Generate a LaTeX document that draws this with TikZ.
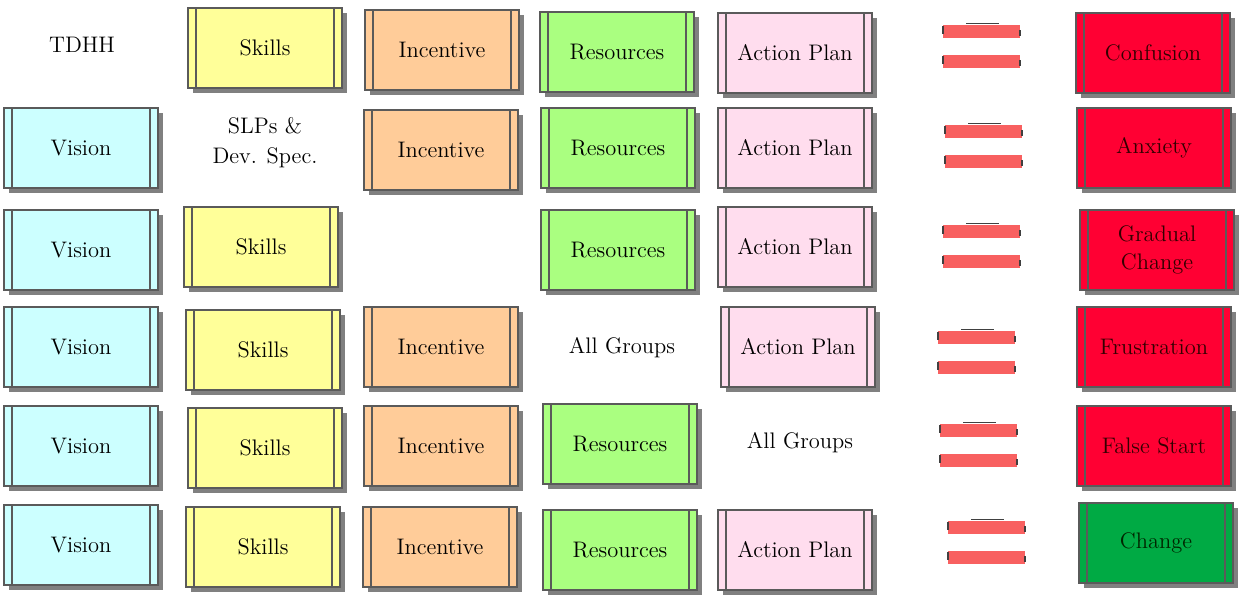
\documentclass[tikz,border=0pt]{standalone}
\usepackage{fontspec}
\usetikzlibrary{shadows}
\definecolor{boxline}{HTML}{5A5A5A}
\definecolor{visioncol}{HTML}{CCFFFF}
\definecolor{skillcol}{HTML}{FFFF99}
\definecolor{incentcol}{HTML}{FFCC99}
\definecolor{rescol}{HTML}{AAFF80}
\definecolor{plancol}{HTML}{FFDDEE}
\definecolor{badcol}{HTML}{FF0033}
\definecolor{goodcol}{HTML}{00AA44}
\definecolor{eqcol}{HTML}{F86060}

\begin{document}
\begin{tikzpicture}[x=0.02cm, y=-0.02cm,
  pbox/.style={draw=boxline, line width=0.8pt, minimum width=3.08cm,
    minimum height=1.6cm, inner sep=0pt, font=\fontsize{12.8}{16}\selectfont,
    drop shadow={shadow xshift=0.1cm, shadow yshift=-0.1cm, fill=gray, opacity=1},
    path picture={
      \draw[boxline, line width=0.8pt]
        ([xshift=0.16cm]path picture bounding box.north west) --
        ([xshift=0.16cm]path picture bounding box.south west)
        ([xshift=-0.16cm]path picture bounding box.north east) --
        ([xshift=-0.16cm]path picture bounding box.south east);}},
  vis/.style={pbox, fill=visioncol},
  skl/.style={pbox, fill=skillcol},
  inc/.style={pbox, fill=incentcol},
  res/.style={pbox, fill=rescol},
  plan/.style={pbox, fill=plancol},
  bad/.style={pbox, fill=badcol, text=black!80!red},
  good/.style={pbox, fill=goodcol, text=black!85!green},
  plain/.style={font=\fontsize{12.8}{17}\selectfont, align=center}]
  \useasboundingbox (0,0) rectangle (1241,602);

  % row 1
  \node[plain] (tdhh) at (82,45) {TDHH};
  \node[skl] (sk1) at (265,48) {Skills};
  \node[inc] (in1) at (442,50) {Incentive};
  \node[res] (re1) at (617,52) {Resources};
  \node[plan] (ap1) at (795,53) {Action Plan};
  \node[bad] (out1) at (1153,53) {Confusion};

  % row 2
  \node[vis] (vi2) at (81,148) {Vision};
  \node[plain] (slp) at (265,143) {SLPs \&\\Dev. Spec.};
  \node[inc] (in2) at (441,150) {Incentive};
  \node[res] (re2) at (618,148) {Resources};
  \node[plan] (ap2) at (795,148) {Action Plan};
  \node[bad] (out2) at (1154,148) {Anxiety};

  % row 3
  \node[vis] (vi3) at (81,250) {Vision};
  \node[skl] (sk3) at (261,247) {Skills};
  \node[res] (re3) at (618,250) {Resources};
  \node[plan] (ap3) at (795,247) {Action Plan};
  \node[bad, align=center] (out3) at (1157,250) {Gradual\\Change};

  % row 4
  \node[vis] (vi4) at (81,347) {Vision};
  \node[skl] (sk4) at (263,350) {Skills};
  \node[inc] (in4) at (441,347) {Incentive};
  \node[plain] (all4) at (622,348) {All Groups};
  \node[plan] (ap4) at (798,347) {Action Plan};
  \node[bad] (out4) at (1154,347) {Frustration};

  % row 5
  \node[vis] (vi5) at (81,446) {Vision};
  \node[skl] (sk5) at (265,448) {Skills};
  \node[inc] (in5) at (441,446) {Incentive};
  \node[res] (re5) at (620,444) {Resources};
  \node[plain] (all5) at (800,443) {All Groups};
  \node[bad] (out5) at (1154,446) {False Start};

  % row 6
  \node[vis] (vi6) at (81,545) {Vision};
  \node[skl] (sk6) at (263,547) {Skills};
  \node[inc] (in6) at (440,547) {Incentive};
  \node[res] (re6) at (620,550) {Resources};
  \node[plan] (ap6) at (795,550) {Action Plan};
  \node[good] (out6) at (1156,543) {Change};

  % equals signs
  \foreach \ex/\ey in {943/31, 945/131, 943/231, 938/337, 940/430, 948/527}{
    \fill[eqcol] (\ex,\ey-6.5) rectangle (\ex+77,\ey+6.5);
    \fill[eqcol] (\ex,\ey+23.5) rectangle (\ex+77,\ey+36.5);
    \draw[black!75, line width=1pt] (\ex+23,\ey-7.5) -- (\ex+56,\ey-7.5);
    \draw[black!75, line width=1pt] (\ex,\ey-5) -- (\ex,\ey+3) (\ex+77,\ey-1) -- (\ex+77,\ey+5)
      (\ex,\ey+25) -- (\ex,\ey+33) (\ex+77,\ey+29) -- (\ex+77,\ey+35);
  }
\end{tikzpicture}
\end{document}
